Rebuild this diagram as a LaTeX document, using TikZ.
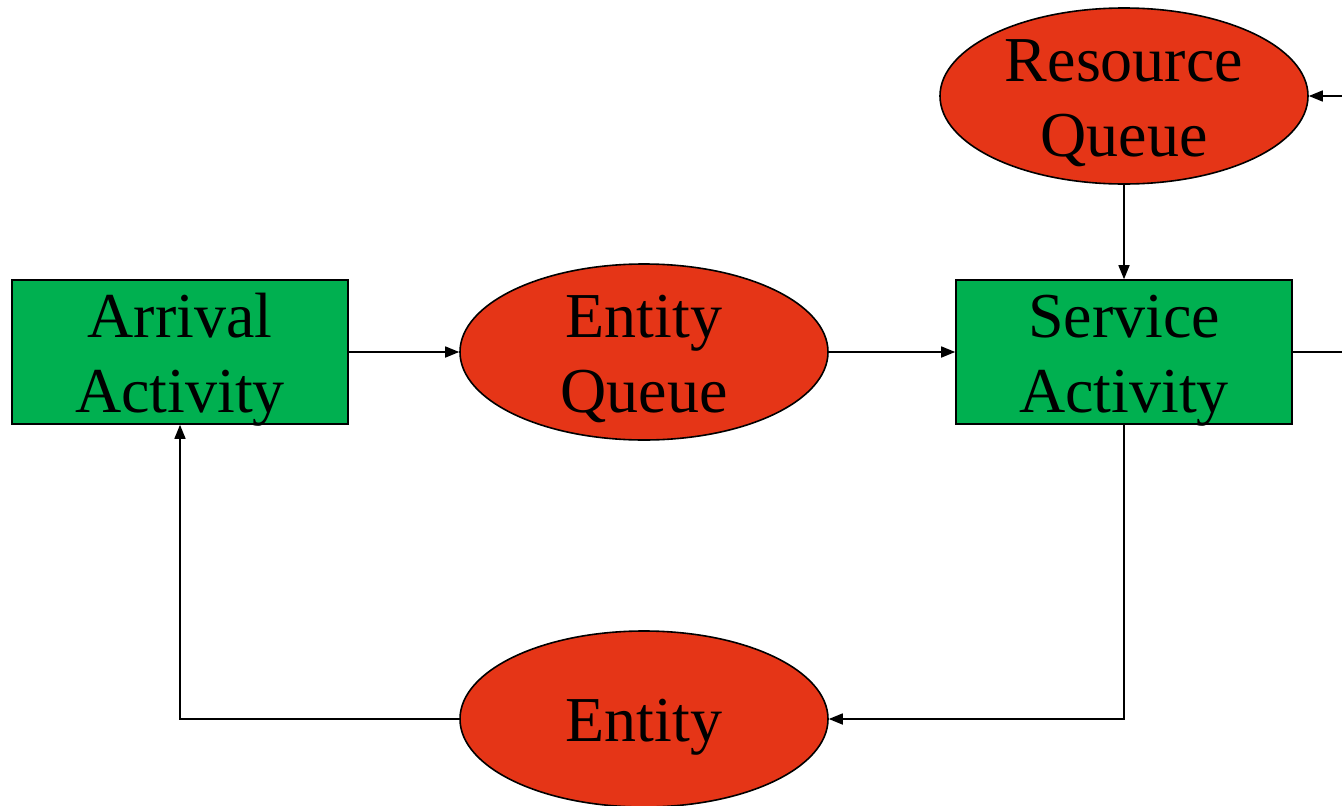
\documentclass[tikz,border=0pt]{standalone}
\usepackage{fontspec}
\setmainfont{Liberation Serif}
\usetikzlibrary{shapes.geometric,arrows.meta}
\definecolor{actgreen}{HTML}{00B050}
\definecolor{queuered}{HTML}{E53517}
% centred node text of no reported size, so the shapes keep their own size;
% tabular centres on the math axis, so lower it a little to sit centred
\newcommand{\nodetext}[1]{\raisebox{-14pt}[0pt][0pt]{\begin{tabular}{@{}c@{}}#1\end{tabular}}}
\tikzset{
  label font/.style={font=\fontsize{64}{75}\selectfont, text=black},
  activity/.style={rectangle, draw=black, line width=1.6pt, fill=actgreen,
    minimum width=336pt, minimum height=144pt, inner sep=0pt, label font},
  queue/.style={ellipse, draw=black, line width=1.6pt, fill=queuered,
    minimum width=368pt, minimum height=176pt, inner sep=0pt, label font},
  flow/.style={draw=black, line width=1.6pt},
  flowarrow/.style={flow, -{Triangle[length=14pt,width=11pt]}},
}
\begin{document}
\begin{tikzpicture}[x=1pt, y=-1pt]
  \useasboundingbox (0,0) rectangle (1342,806);

  % activities
  \node[activity] (arrival) at (180,352) {\nodetext{Arrival\\Activity}};
  \node[activity] (service) at (1124,352) {\nodetext{Service\\Activity}};

  % queues
  \node[queue] (equeue) at (644,352) {\nodetext{Entity\\Queue}};
  \node[queue] (rqueue) at (1124,96) {\nodetext{Resource\\Queue}};
  \node[queue] (entity) at (644,719) {\nodetext{Entity}};

  % free ends at the right border
  \coordinate (rin) at (1342,96);
  \coordinate (sout) at (1342,352);

  % connectors
  \draw[flowarrow] (arrival.east) -- (equeue.west);
  \draw[flowarrow] (equeue.east) -- (service.west);
  \draw[flowarrow] (rqueue.south) -- (service.north);
  \draw[flowarrow] (rin) -- (rqueue.east);
  \draw[flow] (service.east) -- (sout);
  \draw[flowarrow] (service.south) |- (entity.east);
  \draw[flowarrow] (entity.west) -| (arrival.south);
\end{tikzpicture}
\end{document}
